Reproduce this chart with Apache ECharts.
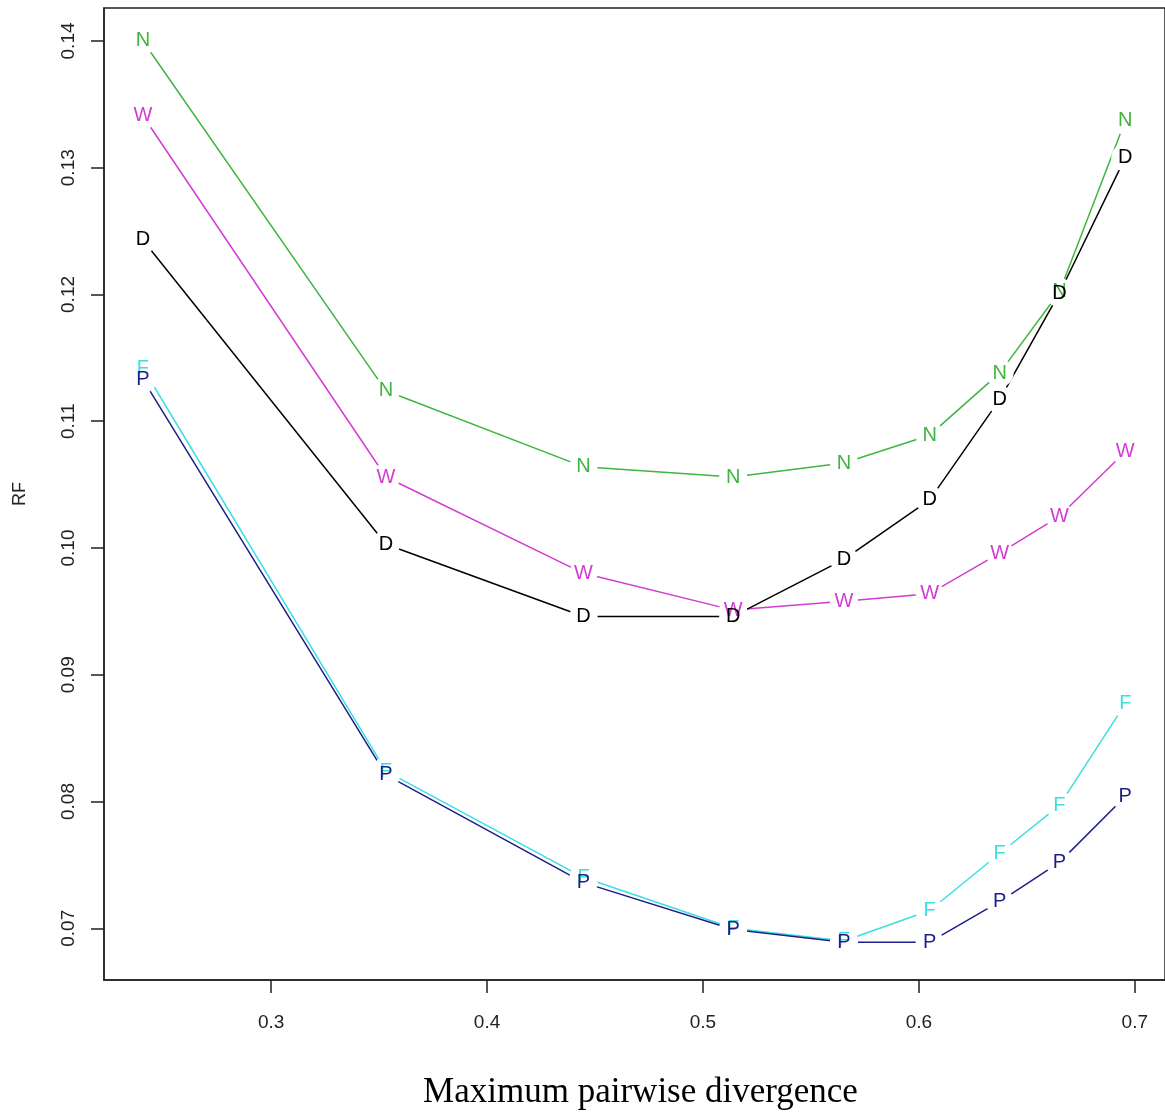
<!DOCTYPE html>
<html>
<head>
<meta charset="utf-8">
<script src="https://cdn.jsdelivr.net/npm/echarts@6/dist/echarts.min.js"></script>
<style>
  html, body { margin: 0; padding: 0; background: #fff; }
  #chart { width: 1165px; height: 1120px; }
</style>
</head>
<body>
<div id="chart"></div>
<script>
// Maximum pairwise divergence (x) for every curve
const xValues = [0.2406, 0.3532, 0.4447, 0.5140, 0.5653, 0.6050, 0.6374, 0.6651, 0.6956];

// RF values per method
const seriesN = [0.1400, 0.1124, 0.1064, 0.1056, 0.1067, 0.1089, 0.1138, 0.1202, 0.1337];
const seriesW = [0.1341, 0.1056, 0.0980, 0.0951, 0.0958, 0.0964, 0.0996, 0.1025, 0.1076];
const seriesF = [0.1142, 0.0824, 0.0740, 0.0700, 0.0690, 0.0714, 0.0759, 0.0797, 0.0877];
const seriesD = [0.1243, 0.1003, 0.0946, 0.0946, 0.0991, 0.1038, 0.1117, 0.1201, 0.1308];
const seriesP = [0.1133, 0.0821, 0.0736, 0.0699, 0.0689, 0.0689, 0.0721, 0.0752, 0.0804];

const seriesLetters = ['N', 'W', 'F', 'D', 'P'];
const seriesValues = [seriesN, seriesW, seriesF, seriesD, seriesP];
const seriesColors = ['#3fb53f', '#d23cd2', '#3ddede', '#000000', '#1e1e8a'];

const xTicks = [0.3, 0.4, 0.5, 0.6, 0.7];
const yTicks = [0.07, 0.08, 0.09, 0.10, 0.11, 0.12, 0.13, 0.14];

const xTitle = 'Maximum pairwise divergence';
const yTitle = 'RF';

const chart = echarts.init(document.getElementById('chart'), null, { renderer: 'canvas' });

const series = [];
seriesLetters.forEach((letter, i) => {
  const data = xValues.map((x, j) => [x, seriesValues[i][j]]);
  series.push({
    type: 'line', name: letter, data: data, z: 1,
    showSymbol: false, symbol: 'none', silent: true, animation: false,
    lineStyle: { color: seriesColors[i], width: 1.5 }
  });
});
seriesLetters.forEach((letter, i) => {
  const data = xValues.map((x, j) => [x, seriesValues[i][j]]);
  series.push({
    type: 'scatter', name: letter + '_gap', data: data, z: 2,
    symbol: 'circle', symbolSize: 28, silent: true, animation: false,
    itemStyle: { color: '#ffffff', opacity: 1 }
  });
});
seriesLetters.forEach((letter, i) => {
  const data = xValues.map((x, j) => [x, seriesValues[i][j]]);
  series.push({
    type: 'scatter', name: letter + '_label', data: data, z: 3,
    symbol: 'circle', symbolSize: 1, silent: true, animation: false,
    itemStyle: { color: 'rgba(0,0,0,0)', opacity: 1 },
    label: {
      show: true, position: 'inside', formatter: letter,
      color: seriesColors[i], fontFamily: 'Liberation Sans, Arial, sans-serif',
      fontSize: 20
    }
  });
});

const axisFont = 'Liberation Sans, Arial, sans-serif';

chart.setOption({
  animation: false,
  backgroundColor: '#ffffff',
  grid: {
    left: 104, top: 8, right: -3, bottom: 140,
    show: true, borderColor: '#222', borderWidth: 1.5, backgroundColor: 'transparent'
  },
  xAxis: {
    type: 'value', min: 0.2226, max: 0.714,
    name: xTitle, nameLocation: 'middle', nameGap: 95,
    nameTextStyle: { fontFamily: 'Liberation Serif, Times New Roman, serif', fontSize: 35, color: '#000', padding: [0, 0, 0, 12] },
    axisLine: { show: true, lineStyle: { color: '#222', width: 1.5 } },
    axisTick: { show: true, inside: false, length: 13, customValues: xTicks, lineStyle: { color: '#222', width: 1.5 } },
    axisLabel: { show: true, customValues: xTicks, margin: 33, fontFamily: axisFont, fontSize: 19, color: '#222',
      formatter: v => v.toFixed(1) },
    splitLine: { show: false }
  },
  yAxis: {
    type: 'value', min: 0.06592, max: 0.1426,
    name: yTitle, nameLocation: 'middle', nameGap: 75, nameRotate: 90,
    nameTextStyle: { fontFamily: axisFont, fontSize: 18, color: '#222' },
    axisLine: { show: true, lineStyle: { color: '#222', width: 1.5 } },
    axisTick: { show: true, inside: false, length: 13, customValues: yTicks, lineStyle: { color: '#222', width: 1.5 } },
    axisLabel: { show: true, customValues: yTicks, margin: 26, rotate: 90, fontFamily: axisFont, fontSize: 19, color: '#222',
      formatter: v => v.toFixed(2) },
    splitLine: { show: false }
  },
  series: series
});
</script>
</body>
</html>
